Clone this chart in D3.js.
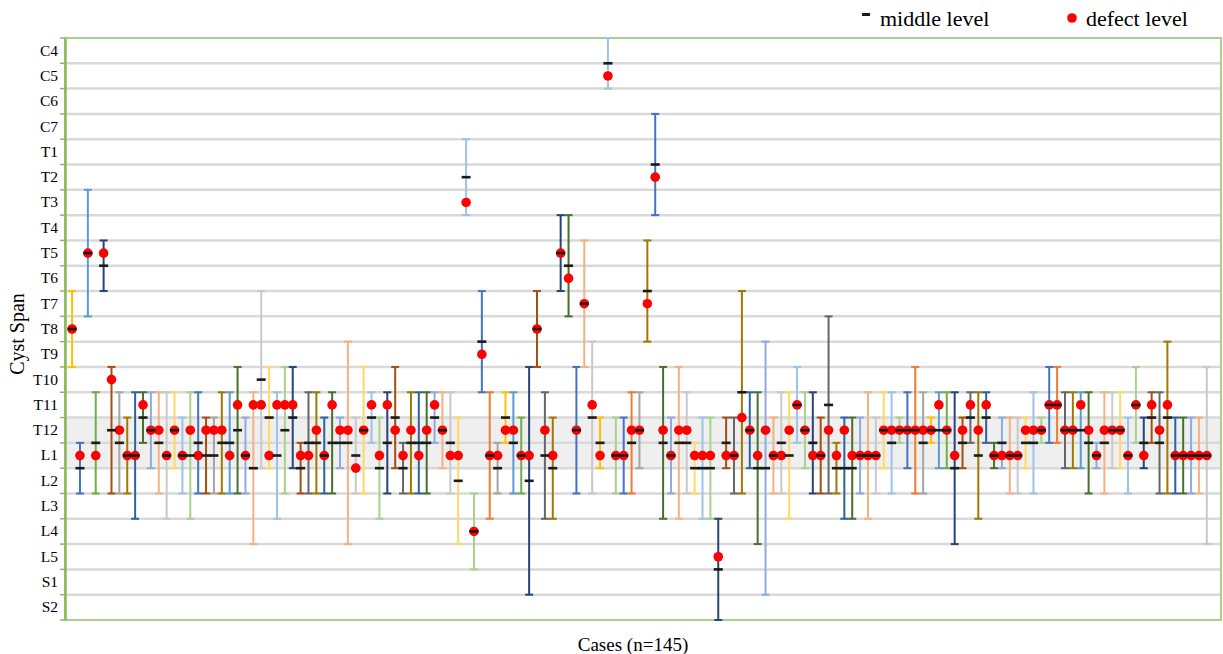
<!DOCTYPE html>
<html>
<head>
<meta charset="utf-8">
<script src="https://cdn.jsdelivr.net/npm/d3@7"></script>
<style>
  body { margin: 0; background: #fff; }
  text { font-family: "Liberation Serif", "Times New Roman", serif; }
</style>
</head>
<body>
<svg id="chart" width="1223" height="654"></svg>
<script>
// vertebral levels, top to bottom
var levels = ["C4","C5","C6","C7","T1","T2","T3","T4","T5","T6","T7","T8","T9","T10","T11","T12","L1","L2","L3","L4","L5","S1","S2"];

// per case (n=145): upper end, lower end, middle level, defect level
// "A/B" means the boundary between two vertebrae
var upper = ["T7","L1","T3","T11","T5","T10","T11","T12","T11","T11","T11","T11","T11","T11","T12","T11","T11","T12","T12","T11",
  "T11","T10","T12","T11","T7","T10","T11","T10","T10","L1","T11","T11","T12","T11","T12","T9","T12","T10","T11","T12",
  "T11","T10","L1","T11","T11","T11","T11","T11","T11","T12","T1","L3","T7","T11","L1","T11","T11","T12","T10","T7",
  "T11","T12","T4","T4","T10","T5","T9","T12","C4","T12","T12","T11","T11","T5","C7","T10","T12","T10","T11","L1",
  "T12","T12","L4","T12","T12","T7","T11","T11","T9","T12","T11","T11","T10","T11","T11","T12","T8","L1","T12","T12",
  "T12","T11","T12","T11","T11","T12","T11","T10","T11","T12","T11","T11","T11","T12","T11","T11","T11","L1","T12","T12",
  "T12","T12","T11","T12","T10","T10","T11","T11","T11","T11","L1","T11","T11","T11","T12","T10","T12","T11","T11","T9",
  "T12","T12","T12","T12","T10"];
var lower = ["T9","L2","T7","L2","T6","L2","L2","L2","L3","T12","L1","L2","L3","L1","L2","L3","L2","L2","L2","L2",
  "L2","L2","L2","L4","L1","L1","L3","L2","L1","L2","L2","L2","L2","L2","L1","L4","L2","L2","T12","L3",
  "L2","L1","L2","L2","L2","L2","T12","L1","L2","L4","T3","L5","T10","L3","L2","T12","L2","L2","S1","T9",
  "L3","L3","T6","T7","L2","T9","L2","L1","C5","L2","L2","L2","L1","T8","T3","L3","L2","L3","L2","L2",
  "L3","L3","S2","L1","L2","L2","L1","L4","S1","L2","L2","L3","T12","L1","L2","L2","L2","L2","L3","L3",
  "L2","L3","L2","L1","L2","T12","L1","L2","L2","T12","L1","L1","L4","L1","T12","L3","T12","L1","L1","L2",
  "L2","L1","L2","T12","T12","T12","L1","L1","L1","L2","L1","L2","L1","L1","L2","T12","L1","T12","L2","L2",
  "L2","L2","L2","L2","L4"];
var middle = ["T8","L1/L2","T5","T12/L1","T5/T6","T12","T12/L1","L1","L1","T11/T12","T12","T12/L1","L1","T12","L1","L1","T12/L1","L1","L1","T12/L1",
  "T12/L1","T12","L1","L1/L2","T10","T11/T12","L1","T12","T11/T12","L1/L2","T12/L1","T12/L1","L1","T12/L1","T12/L1","T12/L1","L1","T12","T11/T12","L1/L2",
  "T12/L1","T11/T12","L1/L2","T12/L1","T12/L1","T12/L1","T11/T12","T12","T12/L1","L2","T2","L4","T8/T9","L1","L1/L2","T11/T12","T12/L1","L1","L2","T8",
  "L1","L1/L2","T5","T5/T6","T12","T7","T11/T12","T12/L1","C4/C5","L1","L1","T12/L1","T12","T6/T7","T1/T2","T12/L1","L1","T12/L1","T12/L1","L1/L2",
  "L1/L2","L1/L2","L5/S1","T12/L1","L1","T10/T11","T12","L1/L2","L1/L2","L1","T12/L1","L1","T11","T12","T12/L1","L1","T11","L1/L2","L1/L2","L1/L2",
  "L1","L1","L1","T12","T12/L1","T12","T12","T12","T12/L1","T12","T12","T12","L1/L2","T12/L1","T11/T12","L1","T11/T12","L1","T12/L1","L1",
  "L1","T12/L1","T12/L1","T12","T11","T11","T12","T12","T12","T12/L1","L1","T12/L1","T12","T12","L1","T11","T12/L1","T11/T12","T12/L1","T11/T12",
  "L1","L1","L1","L1","L1"];
var defect = ["T8","L1","T5","L1","T5","T10","T12","L1","L1","T11","T12","T12","L1","T12","L1","T12","L1","T12","T12","T12",
  "L1","T11","L1","T11","T11","L1","T11","T11","T11","L1","L1","T12","L1","T11","T12","T12","L1/L2","T12","T11","L1",
  "T11","T12","L1","T12","L1","T12","T11","T12","L1","L1","T3","L4","T9","L1","L1","T12","T12","L1","L1","T8",
  "T12","L1","T5","T6","T12","T7","T11","L1","C5","L1","L1","T12","T12","T7","T2","T12","L1","T12","T12","L1",
  "L1","L1","L5","L1","L1","T11/T12","T12","L1","T12","L1","L1","T12","T11","T12","L1","L1","T12","L1","T12","L1",
  "L1","L1","L1","T12","T12","T12","T12","T12","T12","T12","T11","T12","L1","T12","T11","T12","T11","L1","L1","L1",
  "L1","T12","T12","T12","T11","T11","T12","T12","T11","T12","L1","T12","T12","T12","L1","T11","L1","T11","T12","T11",
  "L1","L1","L1","L1","L1"];

// series colours (one letter per case)
var palette = {Y:"#FFC000", C:"#4472C4", B:"#5B9BD5", G:"#70AD47", O:"#ED7D31", R:"#A5A5A5",
  D:"#264478", N:"#A34F12", K:"#666666", A:"#A07800", M:"#2A64A0", E:"#47702D",
  L:"#8FAADC", P:"#F4B183", S:"#C9C9C9", Z:"#FFD966", U:"#9DC3E6", H:"#A9D18E"};
var colorCodes = "YCBG" + "DNRAME" + "LPSZUH" + "CNRABE" + "LPSZUH" + "DNKAME" + "LPSZUH" + "DNKAME" + "LPSZUH" +
  "CORYBG" + "DNKADE" + "CPSYUH" + "CORACE" + "LPSZUH" + "DNKAME" + "LPSZUH" + "DNKAME" + "LPSZUH" +
  "CORYBG" + "DNKAME" + "LPSZUH" + "COKABE" + "LPSZUH" + "DNKAME" + "LPS";

function pos(name) {
  var parts = name.split("/");
  return d3.mean(parts, function(p) { return levels.indexOf(p); });
}

var cases = upper.map(function(u, i) {
  return { n: i + 1, top: pos(u), bottom: pos(lower[i]), mid: pos(middle[i]), def: pos(defect[i]),
           color: palette[colorCodes[i]] };
});

var svg = d3.select("#chart");
var pLeft = 65, pRight = 1221, pTop = 38, pBottom = 620;

var x = d3.scaleLinear().domain([0.1, 146.8]).range([pLeft, pRight]);
var y = d3.scaleLinear().domain([-0.5, levels.length - 0.5]).range([pTop, pBottom]);

// shaded T12-L1 zone
svg.append("rect")
    .attr("x", pLeft).attr("width", pRight - pLeft)
    .attr("y", y(pos("T12") - 0.5)).attr("height", y(pos("L1") + 0.5) - y(pos("T12") - 0.5))
    .attr("fill", "#EFEFEF");

// grid lines (vertebra boundaries)
svg.append("g").selectAll("line")
    .data(d3.range(1, levels.length)).enter().append("line")
    .attr("x1", pLeft).attr("x2", pRight)
    .attr("y1", function(d) { return y(d - 0.5); })
    .attr("y2", function(d) { return y(d - 0.5); })
    .attr("stroke", "#D9D9D9").attr("stroke-width", 2.5);

// frame
svg.append("rect")
    .attr("x", pLeft).attr("y", pTop).attr("width", pRight - pLeft).attr("height", pBottom - pTop)
    .attr("fill", "none").attr("stroke", "#A9D18E").attr("stroke-width", 2);

// y axis
var yAxis = d3.axisLeft(d3.scaleBand().domain(levels).range([pTop, pBottom]))
    .tickSize(0).tickPadding(7);
var ya = svg.append("g").attr("transform", "translate(" + pLeft + ",0)").call(yAxis);
ya.select(".domain").attr("stroke", "#8DB85A").attr("stroke-width", 2.5);
ya.selectAll("text").attr("font-size", 15.5).attr("fill", "#000")
    .style("font-family", "'Liberation Serif', serif");
svg.append("g").selectAll("line")
    .data(d3.range(0, levels.length + 1)).enter().append("line")
    .attr("x1", pLeft - 5).attr("x2", pLeft)
    .attr("y1", function(d) { return y(d - 0.5); })
    .attr("y2", function(d) { return y(d - 0.5); })
    .attr("stroke", "#8DB85A").attr("stroke-width", 1.5);

// error bars
var bars = svg.append("g").selectAll("g")
    .data(cases).enter().append("g")
    .attr("stroke", function(d) { return d.color; })
    .attr("stroke-width", 2);
bars.append("line")
    .attr("x1", function(d) { return x(d.n); }).attr("x2", function(d) { return x(d.n); })
    .attr("y1", function(d) { return y(d.top - 0.5); })
    .attr("y2", function(d) { return y(d.bottom + 0.5); });
bars.append("line")
    .attr("x1", function(d) { return x(d.n) - 4; }).attr("x2", function(d) { return x(d.n) + 4; })
    .attr("y1", function(d) { return y(d.top - 0.5); })
    .attr("y2", function(d) { return y(d.top - 0.5); });
bars.append("line")
    .attr("x1", function(d) { return x(d.n) - 4; }).attr("x2", function(d) { return x(d.n) + 4; })
    .attr("y1", function(d) { return y(d.bottom + 0.5); })
    .attr("y2", function(d) { return y(d.bottom + 0.5); });

// defect level dots
svg.append("g").selectAll("circle")
    .data(cases).enter().append("circle")
    .attr("cx", function(d) { return x(d.n); })
    .attr("cy", function(d) { return y(d.def); })
    .attr("r", 4.8)
    .attr("fill", "#FF0000");

// middle level dashes
svg.append("g").selectAll("rect")
    .data(cases).enter().append("rect")
    .attr("x", function(d) { return x(d.n) - 4.5; })
    .attr("y", function(d) { return y(d.mid) - 1.3; })
    .attr("width", 9).attr("height", 2.6)
    .attr("fill", "#1a1a1a");

// axis titles
svg.append("text")
    .attr("transform", "translate(24," + ((pTop + pBottom) / 2 + 5) + ") rotate(-90)")
    .attr("text-anchor", "middle").attr("font-size", 20)
    .text("Cyst Span");
svg.append("text")
    .attr("x", 633).attr("y", 651)
    .attr("text-anchor", "middle").attr("font-size", 19)
    .text("Cases (n=145)");

// legend
var lg = svg.append("g");
lg.append("rect").attr("x", 862).attr("y", 13).attr("width", 8).attr("height", 3).attr("fill", "#1a1a1a");
lg.append("text").attr("x", 880).attr("y", 26).attr("font-size", 22).text("middle level");
lg.append("circle").attr("cx", 1072).attr("cy", 18).attr("r", 4.8).attr("fill", "#FF0000");
lg.append("text").attr("x", 1086).attr("y", 26).attr("font-size", 22).text("defect level");
</script>
</body>
</html>
